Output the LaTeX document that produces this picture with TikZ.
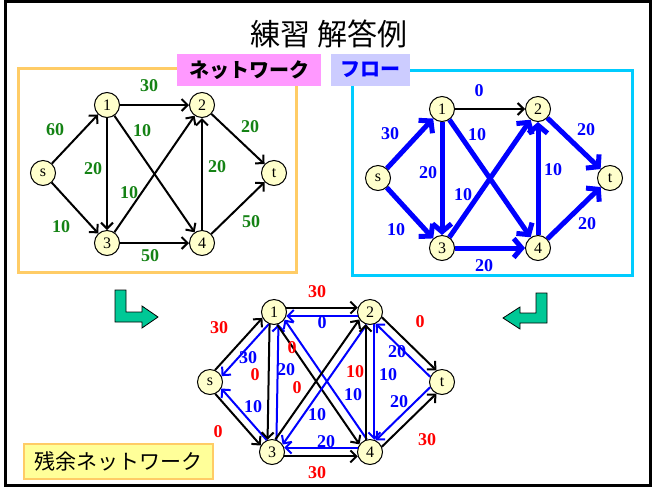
\documentclass[tikz,border=0pt]{standalone}
\usepackage{fontspec}
\setmainfont{Liberation Serif}
\newfontfamily\jp{Noto Sans CJK JP}
\usetikzlibrary{arrows.meta}
\definecolor{netgreen}{RGB}{20,130,20}
\definecolor{flowblue}{RGB}{0,0,255}
\definecolor{resred}{RGB}{255,0,0}
\definecolor{vtxfill}{RGB}{255,255,204}
\definecolor{orangeframe}{RGB}{255,204,102}
\definecolor{cyanframe}{RGB}{0,204,255}
\definecolor{pinktag}{RGB}{255,153,255}
\definecolor{lavtag}{RGB}{204,204,255}
\definecolor{yellowtag}{RGB}{255,255,153}
\definecolor{turnarrow}{RGB}{0,200,150}

\begin{document}
\begin{tikzpicture}[x=1pt,y=1pt,vtx/.style={circle,draw=black,line width=1pt,fill=vtxfill,minimum size=25pt,inner sep=0pt,font=\fontsize{16pt}{18pt}\selectfont},link/.style={draw=black,line width=2pt,-{Straight Barb[length=6pt,width=12pt]}},flowlink/.style={draw=flowblue,line width=5pt,-{Straight Barb[length=8pt,width=19pt]}},fwd/.style={draw=black,line width=2pt,-{Straight Barb[length=6pt,width=12pt]}},bwd/.style={fwd,draw=flowblue},numg/.style={text=netgreen,inner sep=0pt,font=\fontsize{18pt}{20pt}\selectfont\bfseries},numb/.style={numg,text=flowblue},numr/.style={numg,text=resred},tagbox/.style={inner sep=0pt,minimum height=32pt,font=\jp\fontsize{20pt}{24pt}\selectfont\bfseries},frame/.style={line width=3pt}]
\useasboundingbox (0,0) rectangle (652,-488);
\draw[line width=3pt] (5,-1.5) rectangle (650,-485);
\node[font=\jp\fontsize{30pt}{34pt}\selectfont] (title) at (329,-34) {練習 解答例};
% network
\draw[frame,draw=orangeframe] (18,-68) rectangle (296,-272);
\node[tagbox,fill=pinktag,minimum width=144pt] (tagnet) at (249,-70) {ネットワーク};
\node[vtx] (ns) at (43,-173) {s};
\node[vtx] (n1) at (107,-105) {1};
\node[vtx] (n2) at (202,-105) {2};
\node[vtx] (nt) at (274,-173) {t};
\node[vtx] (n3) at (107,-243) {3};
\node[vtx] (n4) at (202,-243) {4};
\draw[link] (ns) -- (n1);
\draw[link] (ns) -- (n3);
\draw[link] (n1) -- (n2);
\draw[link] (n1) -- (n3);
\draw[link] (n1) -- (n4);
\draw[link] (n3) -- (n2);
\draw[link] (n4) -- (n2);
\draw[link] (n2) -- (nt);
\draw[link] (n3) -- (n4);
\draw[link] (n4) -- (nt);
\node[numg] (cs1) at (55,-130) {60};
\node[numg] (cs3) at (61,-227) {10};
\node[numg] (c12) at (149,-86) {30};
\node[numg] (c13) at (93,-169) {20};
\node[numg] (c14) at (142,-131) {10};
\node[numg] (c32) at (129,-193) {10};
\node[numg] (c42) at (217,-167) {20};
\node[numg] (c2t) at (250,-127) {20};
\node[numg] (c34) at (150,-256) {50};
\node[numg] (c4t) at (251,-222) {50};
% flow
\draw[frame,draw=cyanframe] (352,-70) rectangle (632,-275);
\node[tagbox,fill=lavtag,minimum width=79pt,text=flowblue] (tagflow) at (370.5,-70) {フロー};
\node[vtx] (fs) at (378,-178) {s};
\node[vtx] (f1) at (442,-109) {1};
\node[vtx] (f2) at (538,-109) {2};
\node[vtx] (ft) at (610,-178) {t};
\node[vtx] (f3) at (442,-248) {3};
\node[vtx] (f4) at (538,-248) {4};
\draw[flowlink] (fs) -- (f1);
\draw[flowlink] (fs) -- (f3);
\draw[link] (f1) -- (f2);
\draw[flowlink] (f1) -- (f3);
\draw[flowlink] (f1) -- (f4);
\draw[flowlink] (f3) -- (f2);
\draw[flowlink] (f4) -- (f2);
\draw[flowlink] (f2) -- (ft);
\draw[flowlink] (f3) -- (f4);
\draw[flowlink] (f4) -- (ft);
\node[numb] (ks1) at (390,-134) {30};
\node[numb] (ks3) at (396,-230) {10};
\node[numb] (k12) at (479,-91) {0};
\node[numb] (k13) at (428,-173) {20};
\node[numb] (k14) at (477,-135) {10};
\node[numb] (k32) at (463,-195) {10};
\node[numb] (k42) at (553,-170) {10};
\node[numb] (k2t) at (586,-130) {20};
\node[numb] (k34) at (484,-266) {20};
\node[numb] (k4t) at (587,-224) {20};
% turn arrows
\draw[fill=turnarrow,line width=0.8pt,line join=miter] (115,-290) -- (126,-290) -- (126,-312) -- (142,-312) -- (142,-306) -- (158,-317) -- (142,-328) -- (142,-322) -- (115,-322) -- cycle;
\draw[fill=turnarrow,line width=0.8pt,line join=miter] (547,-293) -- (536,-293) -- (536,-313) -- (520,-313) -- (520,-307) -- (503,-318) -- (520,-329) -- (520,-323) -- (547,-323) -- cycle;
% residual network
\node[tagbox,fill=yellowtag,draw=orangeframe,line width=2pt,minimum width=189pt,minimum height=35pt,font=\jp\fontsize{21pt}{24pt}\selectfont] (tagres) at (118,-461) {残余ネットワーク};
\node[vtx] (rs) at (210,-382) {s};
\node[vtx] (r1) at (274,-312) {1};
\node[vtx] (r2) at (370,-312) {2};
\node[vtx] (rt) at (442,-382) {t};
\node[vtx] (r3) at (272,-452) {3};
\node[vtx] (r4) at (370,-452) {4};
\draw[fwd] (rs.67) -- (r1.207);
\draw[bwd] (r1.247) -- (rs.27);
\draw[fwd] (rs.-66) -- (r3.150);
\draw[bwd] (r3.114) -- (rs.-30);
\draw[fwd] (r1.20) -- (r2.160);
\draw[bwd] (r2.198) -- (r1.-18);
\draw[fwd] (r1.250) -- (r3.110);
\draw[bwd] (r3.70) -- (r1.290);
\draw[fwd] (r1.-76) -- (r4.144);
\draw[bwd] (r4.104) -- (r1.-36);
\draw[fwd] (r3.75) -- (r2.215);
\draw[bwd] (r2.255) -- (r3.35);
\draw[fwd] (r4.110) -- (r2.250);
\draw[bwd] (r2.290) -- (r4.70);
\draw[fwd] (r2.-24) -- (rt.116);
\draw[bwd] (rt.156) -- (r2.-64);
\draw[fwd] (r3.-20) -- (r4.200);
\draw[bwd] (r4.160) -- (r3.20);
\draw[fwd] (r4.24) -- (rt.244);
\draw[bwd] (rt.204) -- (r4.64);
\node[numr] (rrs1) at (219,-328) {30};
\node[numb] (rb1s) at (248,-358) {30};
\node[numr] (rrs3) at (218,-432) {0};
\node[numb] (rb3s) at (253,-407) {10};
\node[numr] (rr12) at (317,-292) {30};
\node[numb] (rb21) at (322,-323) {0};
\node[numr] (rr13) at (255,-375) {0};
\node[numb] (rb31) at (286,-370) {20};
\node[numr] (rr14) at (292,-348) {0};
\node[numb] (rb41) at (353,-395) {10};
\node[numr] (rr32) at (297,-388) {0};
\node[numb] (rb23) at (317,-415) {10};
\node[numr] (rr42) at (355,-372) {10};
\node[numb] (rb24) at (388,-375) {10};
\node[numr] (rr2t) at (420,-322) {0};
\node[numb] (rbt2) at (397,-352) {20};
\node[numr] (rr34) at (317,-473) {30};
\node[numb] (rb43) at (326,-442) {20};
\node[numr] (rr4t) at (427,-440) {30};
\node[numb] (rbt4) at (399,-402) {20};
\end{tikzpicture}
\end{document}
